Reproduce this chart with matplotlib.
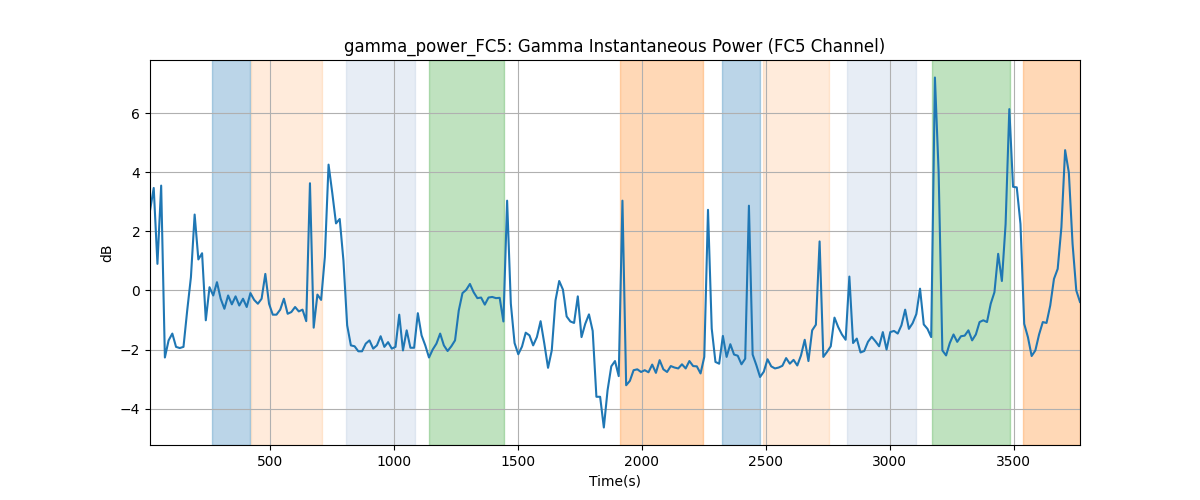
import numpy as np
import matplotlib
matplotlib.use('Agg')
import matplotlib.pyplot as plt

# gamma power samples (dB), one every 15 s
power_db = [
    2.7, 3.47, 0.9, 3.55, -2.27, -1.69, -1.46, -1.91, -1.95, -1.91,
    -0.68, 0.45, 2.57, 1.05, 1.26, -1.01, 0.11, -0.17, 0.28, -0.28,
    -0.62, -0.17, -0.47, -0.2, -0.51, -0.28, -0.56, -0.09, -0.32, -0.45,
    -0.28, 0.56, -0.45, -0.82, -0.82, -0.65, -0.28, -0.79, -0.73, -0.56,
    -0.71, -0.65, -1.04,
    3.63, -1.26, -0.14, -0.32, 1.13, 4.26, 3.3, 2.27, 2.42, 1.01,
    -1.18, -1.86, -1.89, -2.06, -2.06, -1.8, -1.69, -1.97, -1.86, -1.55,
    -1.91, -1.75, -1.97, -1.91, -0.82, -2.03, -1.35, -1.94, -1.94, -0.77,
    -1.52, -1.86, -2.27, -2.0, -1.8, -1.46, -1.86, -2.05, -1.89, -1.69,
    -0.68, -0.09, 0.02, 0.22, -0.06, -0.26, -0.24, -0.48, -0.24, -0.22,
    -0.26, -0.25, -1.05, 3.04, -0.45, -1.78, -2.16, -1.9, -1.43, -1.52,
    -1.86, -1.58, -1.04, -1.8, -2.62, -2.03, -0.34, 0.32, 0.03, -0.88,
    -1.05, -1.1, -0.2, -1.58, -1.13, -0.81, -1.37, -3.6, -3.6, -4.64,
    -3.38,
    -2.57, -2.39, -2.9, 3.04, -3.21, -3.06, -2.7, -2.67, -2.76, -2.7,
    -2.77, -2.51, -2.79, -2.36, -2.67, -2.76, -2.56, -2.61, -2.64, -2.5,
    -2.64, -2.39, -2.56, -2.57, -2.81, -2.25, 2.73, -1.29, -2.42, -2.48,
    -1.54, -2.25, -1.82, -2.17, -2.21, -2.5, -2.31, 2.87, -2.17, -2.53,
    -2.93,
    -2.75, -2.33, -2.57, -2.64, -2.61, -2.55, -2.29, -2.48, -2.35, -2.54,
    -2.2, -1.67, -2.39, -1.35, -1.16, 1.66, -2.25, -2.08, -1.89, -0.92,
    -1.24, -1.49, -1.67, 0.47, -1.78, -1.63, -2.1, -2.05, -1.74, -1.57,
    -1.72, -1.89, -1.41, -2.0, -1.41, -1.37, -1.46, -1.18, -0.65, -1.3,
    -1.11, -0.8, 0.06,
    -1.15, -1.3, -1.58, 7.21, 4.0, -2.03, -2.2, -1.78, -1.49, -1.74,
    -1.55, -1.53, -1.35, -1.69, -1.49, -1.07, -1.01, -1.07, -0.45, -0.06,
    1.24, 0.32, 2.25, 6.14, 3.51, 3.49, 2.25, -1.13, -1.58, -2.22,
    -2.03, -1.49, -1.07, -1.1, -0.51, 0.39, 0.73, 2.14, 4.75, 3.99,
    1.58, 0.0, -0.39,
]
t_start = 17
t_step = 15

# annotated segments (start, end, colour, alpha)
seg_start = [266, 423, 806, 1141, 1911, 2323, 2488, 2827, 3169, 3536]
seg_end = [419, 710, 1085, 1444, 2246, 2476, 2754, 3105, 3484, 3767]
seg_color = ['tab:blue', 'tab:orange', 'lightsteelblue', 'tab:green', 'tab:orange',
             'tab:blue', 'tab:orange', 'lightsteelblue', 'tab:green', 'tab:orange']
seg_alpha = [0.3, 0.15, 0.3, 0.3, 0.3, 0.3, 0.15, 0.3, 0.3, 0.3]

times = t_start + t_step * np.arange(len(power_db))

fig = plt.figure(figsize=(12, 5), dpi=100)
for s, e, c, a in zip(seg_start, seg_end, seg_color, seg_alpha):
    plt.axvspan(s, e, color=c, alpha=a)
plt.plot(times, power_db, color='tab:blue')
plt.xlim(times[0], times[-1])
plt.grid(True)
plt.xlabel("Time(s)")
plt.ylabel("dB")
plt.title("gamma_power_FC5: Gamma Instantaneous Power (FC5 Channel)")
plt.savefig('out.png')
